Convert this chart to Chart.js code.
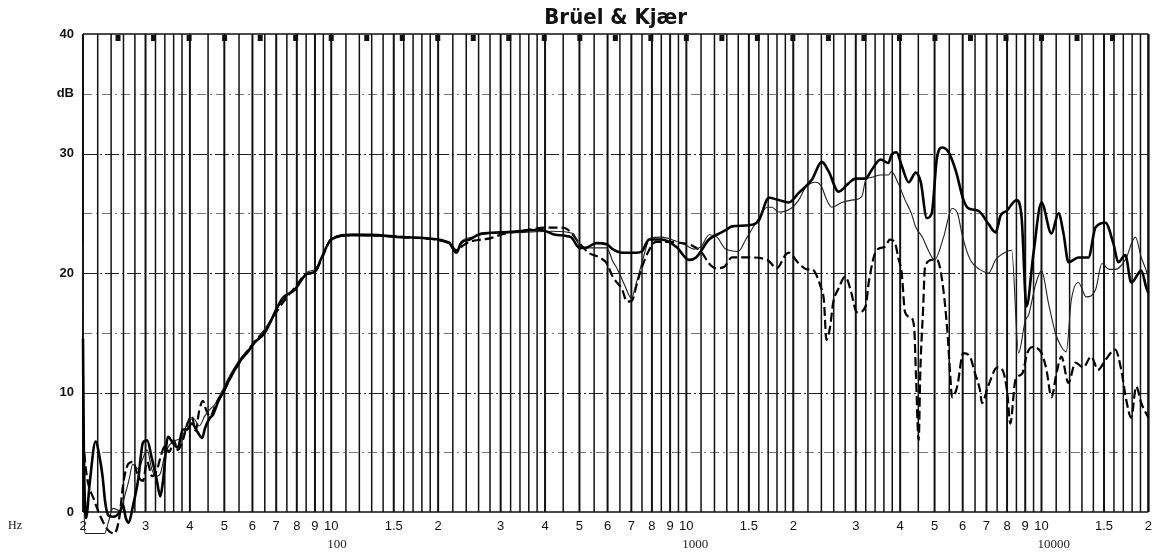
<!DOCTYPE html>
<html>
<head>
<meta charset="utf-8">
<script src="https://cdn.jsdelivr.net/npm/chart.js@4.4.1/dist/chart.umd.min.js"></script>
<style>
  html, body { margin: 0; padding: 0; background: #fff; }
  #wrap { width: 1159px; height: 555px; }
</style>
</head>
<body>
<div id="wrap"><canvas id="chart"></canvas></div>
<script>
// thick solid trace
const aFreq = [20, 20.1, 20.4, 20.9, 21.7, 22.3, 22.7, 23.1, 23.6, 24.3,
  25.4, 25.9, 26.4, 26.9, 27.6, 28.6, 29.5, 30.3, 31.3, 32.3,
  33.0, 33.6, 34.7, 35.8, 37.0, 38.2, 39.2, 40.5, 42.2, 43.3,
  44.1, 45.6, 46.4, 48.0, 49.6, 52.1, 55.6, 58.2, 60.9, 65,
  70.7, 73, 78.9, 85.3, 90, 94, 100, 115, 128, 158,
  185, 215, 225, 232, 245, 265, 300, 390, 427, 473,
  500, 520, 557, 597, 620, 660, 723, 749, 785, 852,
  936, 1018, 1065, 1158, 1236, 1293, 1344, 1500, 1600, 1707,
  1820, 1942, 2072, 2255, 2406, 2516, 2683, 2862, 2995, 3195,
  3322, 3522, 3708, 3780, 3905, 4038, 4228, 4426, 4572, 4753,
  4909, 5071, 5236, 5476, 5730, 6034, 6232, 6649, 7093, 7430,
  7672, 7980, 8510, 8788, 9076, 9489, 10000, 10666, 11170, 11536,
  11914, 12710, 13557, 14192, 15135, 15930, 16456, 17220, 17900, 19100,
  19720, 20000];
const aDb = [14.5, 6.0, -0.5, 2.5, 5.9, 4.5, 3.0, 0.8, -0.3, -0.4,
  0.0, 0.6, -0.5, -0.9, 0.4, 2.7, 5.8, 6.0, 4.4, 2.6,
  1.3, 2.6, 6.3, 5.8, 5.4, 6.9, 6.9, 7.4, 6.6, 6.2,
  7.0, 7.9, 8.1, 9.2, 10.0, 11.3, 12.7, 13.4, 14.2, 15.0,
  17.2, 17.9, 18.6, 19.9, 20.1, 21.3, 22.8, 23.2, 23.2, 23.0,
  22.9, 22.5, 21.7, 22.5, 22.8, 23.3, 23.4, 23.6, 23.2, 23.0,
  22.1, 22.1, 22.5, 22.4, 22.0, 21.7, 21.7, 21.8, 22.8, 22.8,
  22.2, 21.1, 21.3, 22.8, 23.3, 23.6, 23.9, 24.0, 24.4, 26.3,
  26.1, 25.9, 26.7, 27.8, 29.3, 28.5, 26.8, 27.5, 27.9, 27.9,
  28.6, 29.5, 29.2, 29.9, 30.1, 29.0, 27.6, 28.4, 27.6, 24.6,
  25.0, 29.5, 30.5, 30.1, 28.6, 26.1, 25.4, 25.2, 24.1, 23.4,
  24.8, 25.2, 26.1, 24.7, 17.2, 21.6, 25.9, 23.3, 25.0, 23.3,
  20.9, 21.3, 21.3, 23.8, 24.2, 22.5, 20.9, 21.5, 19.2, 20.2,
  18.8, 18.3];

// thin solid trace
const bFreq = [20, 20.05, 20.3, 23.0, 23.6, 24.3, 25.4, 26.3, 27, 27.6,
  28.6, 29.5, 30.3, 31.3, 32.3, 33, 34, 35, 36.5, 38,
  39.5, 41, 42.5, 44, 45.6, 47, 49, 52, 56, 61,
  66, 71, 76, 81, 86, 90, 95, 100, 115, 160,
  215, 225, 232, 250, 280, 350, 420, 480, 500, 530,
  597, 620, 640, 670, 700, 725, 760, 790, 850, 930,
  1000, 1050, 1100, 1160, 1220, 1290, 1400, 1470, 1570, 1690,
  1740, 1820, 1970, 2072, 2170, 2315, 2406, 2470, 2566, 2740,
  2920, 3120, 3200, 3322, 3522, 3708, 3780, 3950, 4130, 4300,
  4430, 4620, 4800, 5000, 5300, 5600, 5800, 6000, 6300, 6700,
  7100, 7430, 8000, 8240, 8620, 9000, 9200, 9620, 10000, 10460,
  10940, 11380, 11740, 12130, 12700, 13370, 14200, 14800, 15480, 16140,
  17220, 18390, 19100, 19720, 20000];
const bDb = [22.5, 10, -1.8, -1.8, -0.8, 0.3, 0.1, 1.5, 2.8, 4.0,
  3.6, 4.5, 5.2, 3.5, 3.0, 3.2, 4.8, 5.6, 6.0, 6.2,
  7.6, 7.8, 7.2, 8.0, 8.6, 9.0, 10.0, 11.5, 13.0, 14.2,
  15.6, 17.2, 18.3, 19.0, 20.1, 20.3, 21.6, 22.9, 23.1, 23.0,
  22.6, 21.8, 22.6, 23.0, 23.3, 23.4, 23.5, 23.3, 22.3, 22.1,
  22.1, 21.0, 20.3, 19.0, 17.9, 19.3, 21.5, 22.9, 23.0, 22.7,
  22.3, 22.0, 22.2, 23.2, 23.0, 22.0, 21.8, 22.8, 24.2, 25.5,
  25.5, 25.1, 25.4, 26.1, 27.2, 27.6, 27.2, 26.3, 25.5, 25.9,
  26.1, 26.4, 27.8, 28.0, 28.2, 28.2, 28.5, 27.5, 26.1, 25.0,
  23.8, 23.0, 21.9, 21.1, 23.0, 25.4, 25.0, 23.0, 21.1, 20.3,
  20.0, 21.1, 21.8, 21.9, 13.3, 16.0, 16.5, 19.0, 20.2, 17.5,
  15.0, 13.8, 13.4, 17.7, 19.2, 18.0, 18.6, 20.8, 20.3, 20.3,
  21.1, 23.0, 21.3, 20.2, 19.5];

// dashed trace
const cFreq = [20, 20.5, 21.5, 22.5, 23.5, 24.5, 25.3, 26, 26.8, 27.6,
  28.6, 29.5, 30.3, 31.3, 32.3, 33, 34, 35, 36, 37,
  38.2, 39.5, 40.5, 41.5, 42.5, 43.5, 44.5, 45.6, 47, 48,
  49.6, 52, 56, 61, 65, 71, 79, 85, 90, 94,
  100, 115, 160, 215, 225, 235, 245, 265, 280, 300,
  340, 410, 450, 465, 500, 530, 570, 597, 620, 660,
  680, 703, 727, 750, 785, 820, 894, 973, 1037, 1106,
  1158, 1211, 1276, 1344, 1500, 1690, 1800, 1900, 1942, 2072,
  2192, 2255, 2392, 2440, 2480, 2540, 2590, 2683, 2800, 2900,
  2995, 3040, 3195, 3270, 3430, 3630, 3740, 3870, 3950, 4040,
  4130, 4270, 4380, 4430, 4510, 4560, 4640, 4700, 4920, 5080,
  5250, 5420, 5530, 5600, 5790, 6020, 6290, 6500, 6710, 6800,
  7070, 7510, 7760, 8010, 8170, 8440, 8830, 9120, 9420, 10000,
  10330, 10670, 11020, 11380, 11910, 12460, 13110, 13800, 14430, 15130,
  16130, 16770, 17320, 17890, 18480, 19100, 20000];
const cDb = [6, 3, 1, -0.5, -1.5, -1.8, -0.5, 2.5, 4.0, 4.2,
  3.0, 2.6, 4.2, 3.0, 3.5, 4.5, 5.5, 5.0, 6.0, 5.2,
  6.0, 7.5, 8.0, 6.8, 8.5, 9.3, 8.5, 8.0, 8.8, 9.4,
  10.0, 11.2, 12.8, 14.3, 15.2, 17.0, 18.8, 19.9, 20.1, 21.2,
  22.8, 23.2, 23.0, 22.5, 21.9, 22.3, 22.6, 22.8, 22.9, 23.2,
  23.5, 23.8, 23.8, 23.6, 22.5, 21.7, 21.3, 20.8, 19.7, 18.6,
  17.6, 17.7, 19.2, 20.5, 21.9, 22.6, 22.6, 22.5, 22.3, 21.7,
  20.8, 20.4, 20.5, 21.3, 21.3, 21.1, 20.4, 21.5, 21.7, 20.8,
  20.3, 20.3, 18.8, 17.7, 14.4, 15.5, 17.5, 18.7, 19.7, 18.6,
  16.9, 16.7, 17.2, 19.4, 21.9, 22.2, 22.8, 22.5, 21.3, 20.0,
  16.7, 16.3, 15.5, 11.6, 6.0, 11.9, 16.9, 20.5, 21.1, 21.1,
  19.4, 15.5, 11.6, 9.6, 10.5, 13.3, 13.0, 11.6, 10.2, 9.1,
  10.5, 12.1, 11.9, 10.0, 7.4, 11.0, 11.6, 13.3, 13.8, 13.3,
  11.9, 9.6, 11.6, 13.0, 10.8, 12.5, 12.1, 13.0, 11.9, 12.7,
  13.6, 11.9, 9.4, 7.9, 10.5, 9.1, 7.9];

// axis labels
const tickFreqs = [20, 30, 40, 50, 60, 70, 80, 90, 100, 150,
  200, 300, 400, 500, 600, 700, 800, 900, 1000, 1500,
  2000, 3000, 4000, 5000, 6000, 7000, 8000, 9000, 10000, 15000, 20000];
const tickLabels = ['2', '3', '4', '5', '6', '7', '8', '9', '10', '1.5',
  '2', '3', '4', '5', '6', '7', '8', '9', '10', '1.5',
  '2', '3', '4', '5', '6', '7', '8', '9', '10', '1.5', '2'];
const decadeFreqs = [100, 1000, 10000];
const decadeLabels = ['100', '1000', '10000'];
const dbTicks = [0, 10, 20, 30, 35, 40];
const dbLabels = ['0', '10', '20', '30', 'dB', '40'];

// paper: marks at the top edge (1/10 decade)
const markFreqs = [25.1, 31.6, 39.8, 50.1, 63.1, 79.4, 100, 125.9, 158.5, 199.5,
  251.2, 316.2, 398.1, 501.2, 631, 794.3, 1000, 1259, 1585, 1995,
  2512, 3162, 3981, 5012, 6310, 7943, 10000, 12589, 15849];
const hLines = [5, 10, 15, 20, 25, 30, 35];

// paper ruling: 1-2 by 0.1, 2-4 by 0.2, 4-10 by 0.5 in every decade
const ruling = [];
[1, 10, 100, 1000].forEach(d => {
  for (let k = 10; k < 20; k++) ruling.push(k * d);
  for (let k = 20; k < 40; k += 2) ruling.push(k * d);
  for (let k = 40; k < 100; k += 5) ruling.push(k * d);
});
ruling.push(20000);
const vLines = ruling.filter(f => f >= 20 && f <= 20000);

const pts = (fs, ds) => fs.map((f, i) => ({ x: f, y: ds[i] }));

const paper = {
  id: 'paper',
  beforeDatasetsDraw(chart) {
    const { ctx, chartArea: a, scales: { x, y } } = chart;
    ctx.save();
    hLines.forEach(v => {
      const py = Math.round(y.getPixelForValue(v)) + 0.5;
      const major = v % 10 === 0;
      ctx.beginPath();
      ctx.setLineDash(major ? [14, 3, 2, 3] : [9, 4, 2, 4]);
      ctx.strokeStyle = major ? '#222' : '#777';
      ctx.lineWidth = 1;
      ctx.moveTo(a.left, py);
      ctx.lineTo(a.right, py);
      ctx.stroke();
    });
    ctx.setLineDash([]);
    vLines.forEach(f => {
      const px = x.getPixelForValue(f);
      ctx.beginPath();
      ctx.strokeStyle = '#111';
      ctx.lineWidth = tickFreqs.includes(f) ? 2 : 1.5;
      ctx.moveTo(px, a.top);
      ctx.lineTo(px, a.bottom);
      ctx.stroke();
    });
    ctx.strokeStyle = '#111';
    ctx.lineWidth = 1.4;
    ctx.beginPath();
    ctx.moveTo(a.left, a.top);
    ctx.lineTo(a.right, a.top);
    ctx.moveTo(a.left, a.bottom);
    ctx.lineTo(a.right, a.bottom);
    ctx.stroke();
    ctx.fillStyle = '#111';
    markFreqs.forEach(f => {
      const px = x.getPixelForValue(f);
      ctx.fillRect(px - 2.5, a.top + 1, 5, 6);
    });
    ctx.font = '12px "Liberation Serif"';
    ctx.textBaseline = 'middle';
    ctx.fillText('Hz', 8, 526);
    ctx.restore();
  }
};

new Chart(document.getElementById('chart'), {
  type: 'line',
  data: {
    datasets: [
      {
        data: pts(aFreq, aDb),
        borderColor: '#000',
        borderWidth: 2.6,
        pointRadius: 0,
        cubicInterpolationMode: 'monotone',
        clip: false
      },
      {
        data: pts(bFreq, bDb),
        borderColor: '#222',
        borderWidth: 1.1,
        pointRadius: 0,
        cubicInterpolationMode: 'monotone',
        clip: false
      },
      {
        data: pts(cFreq, cDb),
        borderColor: '#000',
        borderWidth: 2.2,
        borderDash: [9, 4],
        pointRadius: 0,
        cubicInterpolationMode: 'monotone',
        clip: false
      }
    ]
  },
  options: {
    responsive: true,
    maintainAspectRatio: false,
    devicePixelRatio: 1,
    animation: false,
    layout: { padding: { left: 0, right: 9, top: 0, bottom: 0 } },
    plugins: {
      legend: { display: false },
      tooltip: { enabled: false },
      title: {
        display: true,
        fullSize: false,
        text: 'Brüel & Kjær',
        color: '#111',
        font: { family: 'DejaVu Sans Condensed', size: 22, weight: 'bold', lineHeight: 1 },
        padding: { top: 7.5, bottom: 4.5 }
      }
    },
    scales: {
      x: {
        type: 'logarithmic',
        min: 20,
        max: 20000,
        grid: { display: false, drawTicks: false },
        border: { display: false },
        afterBuildTicks: s => { s.ticks = tickFreqs.map(v => ({ value: v })); },
        afterFit: s => { s.height = 24; },
        ticks: {
          autoSkip: false,
          maxRotation: 0,
          padding: 7,
          color: '#111',
          font: { family: 'Liberation Sans', size: 13 },
          callback: (v, i) => tickLabels[i]
        }
      },
      x2: {
        type: 'logarithmic',
        position: 'bottom',
        weight: 1,
        min: 20,
        max: 20000,
        grid: { display: false, drawTicks: false },
        border: { display: false },
        afterBuildTicks: s => { s.ticks = decadeFreqs.map(v => ({ value: v })); },
        afterFit: s => { s.height = 19; },
        ticks: {
          autoSkip: false,
          maxRotation: 0,
          align: 'start',
          labelOffset: -4,
          padding: 1,
          color: '#222',
          font: { family: 'Liberation Serif', size: 13 },
          callback: (v, i) => decadeLabels[i]
        }
      },
      y: {
        min: 0,
        max: 40,
        grid: { display: false, drawTicks: false },
        border: { display: false },
        afterBuildTicks: s => { s.ticks = dbTicks.map(v => ({ value: v })); },
        afterFit: s => { s.width = 83; },
        ticks: {
          padding: 9,
          color: '#111',
          font: { family: 'Liberation Sans', size: 13, weight: 'bold' },
          callback: (v, i) => dbLabels[i]
        }
      }
    }
  },
  plugins: [paper]
});
</script>
</body>
</html>
